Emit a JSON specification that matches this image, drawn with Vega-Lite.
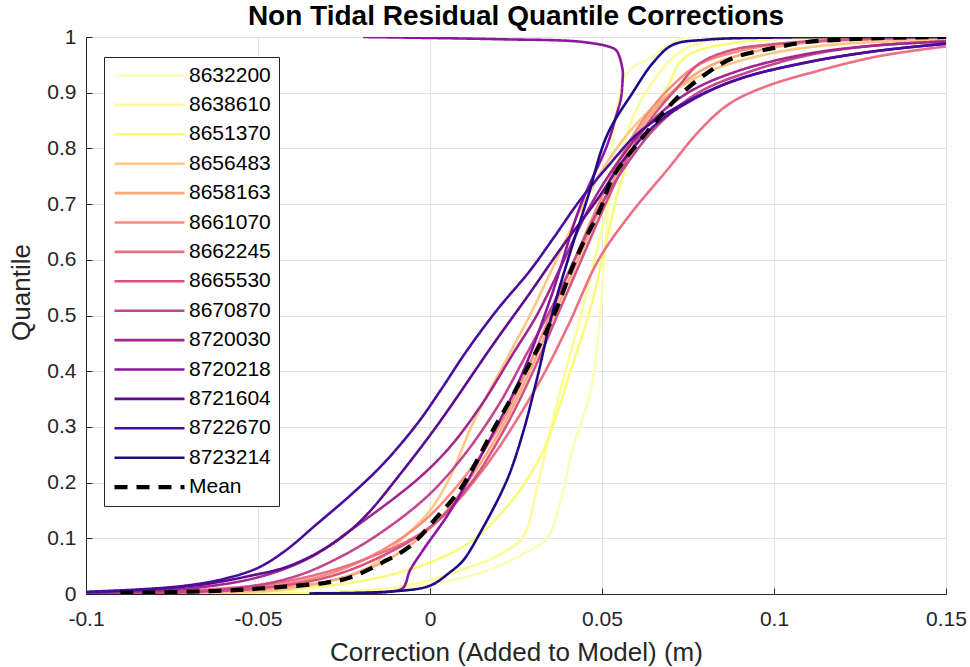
{
"$schema":"https://vega.github.io/schema/vega-lite/v6.json",
"width":860,"height":557,
"autosize":"none",
"padding":{"left":86,"top":37,"right":24,"bottom":73},
"background":"white",
"config":{
 "font":"Liberation Sans",
 "view":{"stroke":"#262626","strokeWidth":1},
 "axis":{"gridColor":"#e3e3e3","gridWidth":1,"domainColor":"#262626","tickColor":"#262626","labelColor":"#262626","titleColor":"#262626","labelFontSize":21,"titleFontSize":26,"titleFontWeight":"normal","tickSize":-6,"labelFlush":false,"labelOverlap":false}
},
"title":{"text":"Non Tidal Residual Quantile Corrections","fontSize":28,"fontWeight":"bold","color":"#000000","offset":-5},
"datasets":{"d":[
{"s":"8632200","x":-0.06,"q":0},{"s":"8632200","x":-0.03,"q":0.003},{"s":"8632200","x":-0.015,"q":0.008},{"s":"8632200","x":-0.005,"q":0.013},{"s":"8632200","x":0.01,"q":0.03},{"s":"8632200","x":0.0195,"q":0.049},{"s":"8632200","x":0.028,"q":0.075},{"s":"8632200","x":0.034,"q":0.1},{"s":"8632200","x":0.0378,"q":0.163},{"s":"8632200","x":0.0416,"q":0.264},{"s":"8632200","x":0.0465,"q":0.36},{"s":"8632200","x":0.049,"q":0.47},{"s":"8632200","x":0.0505,"q":0.587},{"s":"8632200","x":0.052,"q":0.704},{"s":"8632200","x":0.053,"q":0.8},{"s":"8632200","x":0.055,"q":0.896},{"s":"8632200","x":0.058,"q":0.94},{"s":"8632200","x":0.064,"q":0.962},{"s":"8632200","x":0.0735,"q":0.998},{"s":"8632200","x":0.09,"q":1},
{"s":"8638610","x":-0.06,"q":0},{"s":"8638610","x":-0.03,"q":0.003},{"s":"8638610","x":-0.01,"q":0.012},{"s":"8638610","x":0,"q":0.025},{"s":"8638610","x":0.01,"q":0.045},{"s":"8638610","x":0.02,"q":0.07},{"s":"8638610","x":0.027,"q":0.102},{"s":"8638610","x":0.031,"q":0.187},{"s":"8638610","x":0.035,"q":0.294},{"s":"8638610","x":0.0387,"q":0.384},{"s":"8638610","x":0.043,"q":0.48},{"s":"8638610","x":0.047,"q":0.58},{"s":"8638610","x":0.051,"q":0.68},{"s":"8638610","x":0.055,"q":0.78},{"s":"8638610","x":0.06,"q":0.87},{"s":"8638610","x":0.066,"q":0.93},{"s":"8638610","x":0.072,"q":0.97},{"s":"8638610","x":0.08,"q":0.992},{"s":"8638610","x":0.1,"q":1},
{"s":"8651370","x":-0.08,"q":0},{"s":"8651370","x":-0.04,"q":0.008},{"s":"8651370","x":-0.0145,"q":0.03},{"s":"8651370","x":0,"q":0.057},{"s":"8651370","x":0.0125,"q":0.097},{"s":"8651370","x":0.024,"q":0.169},{"s":"8651370","x":0.032,"q":0.246},{"s":"8651370","x":0.037,"q":0.325},{"s":"8651370","x":0.04,"q":0.384},{"s":"8651370","x":0.0465,"q":0.51},{"s":"8651370","x":0.052,"q":0.653},{"s":"8651370","x":0.0544,"q":0.716},{"s":"8651370","x":0.059,"q":0.8},{"s":"8651370","x":0.064,"q":0.864},{"s":"8651370","x":0.069,"q":0.91},{"s":"8651370","x":0.0727,"q":0.955},{"s":"8651370","x":0.0776,"q":0.975},{"s":"8651370","x":0.088,"q":0.989},{"s":"8651370","x":0.1,"q":0.996},{"s":"8651370","x":0.13,"q":1},
{"s":"8656483","x":-0.09,"q":0},{"s":"8656483","x":-0.07,"q":0.002},{"s":"8656483","x":-0.04,"q":0.01},{"s":"8656483","x":-0.018,"q":0.048},{"s":"8656483","x":-0.008,"q":0.1},{"s":"8656483","x":0,"q":0.15},{"s":"8656483","x":0.0058,"q":0.21},{"s":"8656483","x":0.012,"q":0.3},{"s":"8656483","x":0.0174,"q":0.366},{"s":"8656483","x":0.023,"q":0.43},{"s":"8656483","x":0.029,"q":0.5},{"s":"8656483","x":0.036,"q":0.59},{"s":"8656483","x":0.0427,"q":0.677},{"s":"8656483","x":0.05,"q":0.76},{"s":"8656483","x":0.058,"q":0.83},{"s":"8656483","x":0.068,"q":0.89},{"s":"8656483","x":0.08,"q":0.935},{"s":"8656483","x":0.095,"q":0.965},{"s":"8656483","x":0.115,"q":0.985},{"s":"8656483","x":0.15,"q":0.996},
{"s":"8658163","x":-0.1,"q":0},{"s":"8658163","x":-0.08,"q":0.002},{"s":"8658163","x":-0.045,"q":0.01},{"s":"8658163","x":-0.025,"q":0.03},{"s":"8658163","x":-0.01,"q":0.07},{"s":"8658163","x":0.002,"q":0.13},{"s":"8658163","x":0.012,"q":0.21},{"s":"8658163","x":0.021,"q":0.3},{"s":"8658163","x":0.029,"q":0.4},{"s":"8658163","x":0.036,"q":0.5},{"s":"8658163","x":0.043,"q":0.6},{"s":"8658163","x":0.05,"q":0.7},{"s":"8658163","x":0.057,"q":0.79},{"s":"8658163","x":0.064,"q":0.86},{"s":"8658163","x":0.072,"q":0.91},{"s":"8658163","x":0.082,"q":0.95},{"s":"8658163","x":0.095,"q":0.975},{"s":"8658163","x":0.11,"q":0.99},{"s":"8658163","x":0.13,"q":0.996},{"s":"8658163","x":0.15,"q":1},
{"s":"8661070","x":-0.1,"q":0},{"s":"8661070","x":-0.09,"q":0.002},{"s":"8661070","x":-0.05,"q":0.012},{"s":"8661070","x":-0.03,"q":0.035},{"s":"8661070","x":-0.015,"q":0.075},{"s":"8661070","x":-0.002,"q":0.13},{"s":"8661070","x":0.01,"q":0.21},{"s":"8661070","x":0.02,"q":0.3},{"s":"8661070","x":0.028,"q":0.4},{"s":"8661070","x":0.035,"q":0.5},{"s":"8661070","x":0.042,"q":0.6},{"s":"8661070","x":0.049,"q":0.7},{"s":"8661070","x":0.056,"q":0.79},{"s":"8661070","x":0.063,"q":0.86},{"s":"8661070","x":0.07,"q":0.91},{"s":"8661070","x":0.078,"q":0.95},{"s":"8661070","x":0.09,"q":0.975},{"s":"8661070","x":0.105,"q":0.99},{"s":"8661070","x":0.125,"q":0.996},{"s":"8661070","x":0.15,"q":1},
{"s":"8662245","x":-0.1,"q":0.001},{"s":"8662245","x":-0.06,"q":0.01},{"s":"8662245","x":-0.04,"q":0.025},{"s":"8662245","x":-0.02,"q":0.06},{"s":"8662245","x":0,"q":0.12},{"s":"8662245","x":0.015,"q":0.22},{"s":"8662245","x":0.031,"q":0.372},{"s":"8662245","x":0.04,"q":0.48},{"s":"8662245","x":0.049,"q":0.6},{"s":"8662245","x":0.058,"q":0.68},{"s":"8662245","x":0.0689,"q":0.761},{"s":"8662245","x":0.0785,"q":0.833},{"s":"8662245","x":0.087,"q":0.88},{"s":"8662245","x":0.098,"q":0.912},{"s":"8662245","x":0.117,"q":0.946},{"s":"8662245","x":0.13,"q":0.965},{"s":"8662245","x":0.146,"q":0.98},{"s":"8662245","x":0.15,"q":0.983},
{"s":"8665530","x":-0.1,"q":0},{"s":"8665530","x":-0.08,"q":0.002},{"s":"8665530","x":-0.05,"q":0.01},{"s":"8665530","x":-0.03,"q":0.03},{"s":"8665530","x":-0.015,"q":0.065},{"s":"8665530","x":0,"q":0.12},{"s":"8665530","x":0.012,"q":0.2},{"s":"8665530","x":0.022,"q":0.3},{"s":"8665530","x":0.03,"q":0.4},{"s":"8665530","x":0.037,"q":0.5},{"s":"8665530","x":0.044,"q":0.6},{"s":"8665530","x":0.051,"q":0.7},{"s":"8665530","x":0.058,"q":0.79},{"s":"8665530","x":0.064,"q":0.851},{"s":"8665530","x":0.072,"q":0.91},{"s":"8665530","x":0.0785,"q":0.953},{"s":"8665530","x":0.088,"q":0.977},{"s":"8665530","x":0.098,"q":0.986},{"s":"8665530","x":0.12,"q":0.995},{"s":"8665530","x":0.15,"q":1},
{"s":"8670870","x":-0.1,"q":0.001},{"s":"8670870","x":-0.06,"q":0.008},{"s":"8670870","x":-0.04,"q":0.03},{"s":"8670870","x":-0.025,"q":0.07},{"s":"8670870","x":-0.012,"q":0.12},{"s":"8670870","x":0,"q":0.18},{"s":"8670870","x":0.01,"q":0.25},{"s":"8670870","x":0.02,"q":0.34},{"s":"8670870","x":0.028,"q":0.43},{"s":"8670870","x":0.035,"q":0.51},{"s":"8670870","x":0.042,"q":0.6},{"s":"8670870","x":0.049,"q":0.69},{"s":"8670870","x":0.057,"q":0.77},{"s":"8670870","x":0.066,"q":0.84},{"s":"8670870","x":0.078,"q":0.9},{"s":"8670870","x":0.094,"q":0.94},{"s":"8670870","x":0.112,"q":0.97},{"s":"8670870","x":0.13,"q":0.985},{"s":"8670870","x":0.15,"q":0.992},
{"s":"8720030","x":-0.1,"q":0.002},{"s":"8720030","x":-0.07,"q":0.01},{"s":"8720030","x":-0.05,"q":0.03},{"s":"8720030","x":-0.035,"q":0.065},{"s":"8720030","x":-0.023,"q":0.115},{"s":"8720030","x":-0.0038,"q":0.205},{"s":"8720030","x":0.0058,"q":0.264},{"s":"8720030","x":0.015,"q":0.34},{"s":"8720030","x":0.024,"q":0.43},{"s":"8720030","x":0.031,"q":0.5},{"s":"8720030","x":0.039,"q":0.6},{"s":"8720030","x":0.046,"q":0.69},{"s":"8720030","x":0.054,"q":0.77},{"s":"8720030","x":0.063,"q":0.84},{"s":"8720030","x":0.075,"q":0.9},{"s":"8720030","x":0.09,"q":0.94},{"s":"8720030","x":0.11,"q":0.97},{"s":"8720030","x":0.13,"q":0.985},{"s":"8720030","x":0.15,"q":0.992},
{"s":"8720218","x":-0.035,"q":0.001},{"s":"8720218","x":-0.012,"q":0.004},{"s":"8720218","x":-0.008,"q":0.01},{"s":"8720218","x":-0.007,"q":0.02},{"s":"8720218","x":-0.006,"q":0.04},{"s":"8720218","x":-0.002,"q":0.079},{"s":"8720218","x":0.006,"q":0.15},{"s":"8720218","x":0.015,"q":0.25},{"s":"8720218","x":0.026,"q":0.384},{"s":"8720218","x":0.035,"q":0.53},{"s":"8720218","x":0.0436,"q":0.695},{"s":"8720218","x":0.0515,"q":0.806},{"s":"8720218","x":0.054,"q":0.856},{"s":"8720218","x":0.0555,"q":0.89},{"s":"8720218","x":0.056,"q":0.925},{"s":"8720218","x":0.056,"q":0.94},{"s":"8720218","x":0.0545,"q":0.973},{"s":"8720218","x":0.0532,"q":0.98},{"s":"8720218","x":0.0445,"q":0.991},{"s":"8720218","x":0.02,"q":0.996},{"s":"8720218","x":-0.0195,"q":1},
{"s":"8721604","x":-0.1,"q":0.003},{"s":"8721604","x":-0.08,"q":0.009},{"s":"8721604","x":-0.065,"q":0.018},{"s":"8721604","x":-0.052,"q":0.033},{"s":"8721604","x":-0.042,"q":0.048},{"s":"8721604","x":-0.033,"q":0.073},{"s":"8721604","x":-0.025,"q":0.105},{"s":"8721604","x":-0.018,"q":0.145},{"s":"8721604","x":-0.0087,"q":0.215},{"s":"8721604","x":0,"q":0.285},{"s":"8721604","x":0.0058,"q":0.335},{"s":"8721604","x":0.018,"q":0.445},{"s":"8721604","x":0.029,"q":0.54},{"s":"8721604","x":0.038,"q":0.62},{"s":"8721604","x":0.0485,"q":0.707},{"s":"8721604","x":0.057,"q":0.785},{"s":"8721604","x":0.066,"q":0.845},{"s":"8721604","x":0.078,"q":0.893},{"s":"8721604","x":0.09,"q":0.925},{"s":"8721604","x":0.11,"q":0.955},{"s":"8721604","x":0.13,"q":0.975},{"s":"8721604","x":0.15,"q":0.988},
{"s":"8722670","x":-0.1,"q":0.004},{"s":"8722670","x":-0.085,"q":0.008},{"s":"8722670","x":-0.071,"q":0.015},{"s":"8722670","x":-0.06,"q":0.027},{"s":"8722670","x":-0.05,"q":0.047},{"s":"8722670","x":-0.042,"q":0.078},{"s":"8722670","x":-0.033,"q":0.125},{"s":"8722670","x":-0.023,"q":0.178},{"s":"8722670","x":-0.0137,"q":0.233},{"s":"8722670","x":-0.0038,"q":0.305},{"s":"8722670","x":0.003,"q":0.365},{"s":"8722670","x":0.0105,"q":0.435},{"s":"8722670","x":0.0195,"q":0.51},{"s":"8722670","x":0.029,"q":0.58},{"s":"8722670","x":0.036,"q":0.64},{"s":"8722670","x":0.0436,"q":0.707},{"s":"8722670","x":0.052,"q":0.77},{"s":"8722670","x":0.061,"q":0.83},{"s":"8722670","x":0.075,"q":0.885},{"s":"8722670","x":0.09,"q":0.925},{"s":"8722670","x":0.11,"q":0.955},{"s":"8722670","x":0.13,"q":0.975},{"s":"8722670","x":0.15,"q":0.988},
{"s":"8723214","x":-0.035,"q":0.001},{"s":"8723214","x":-0.01,"q":0.005},{"s":"8723214","x":0,"q":0.015},{"s":"8723214","x":0.006,"q":0.04},{"s":"8723214","x":0.0096,"q":0.06},{"s":"8723214","x":0.0145,"q":0.109},{"s":"8723214","x":0.0224,"q":0.205},{"s":"8723214","x":0.027,"q":0.289},{"s":"8723214","x":0.031,"q":0.384},{"s":"8723214","x":0.0358,"q":0.51},{"s":"8723214","x":0.0407,"q":0.612},{"s":"8723214","x":0.0456,"q":0.707},{"s":"8723214","x":0.0515,"q":0.824},{"s":"8723214","x":0.059,"q":0.901},{"s":"8723214","x":0.065,"q":0.955},{"s":"8723214","x":0.0706,"q":0.986},{"s":"8723214","x":0.08,"q":0.995},{"s":"8723214","x":0.1,"q":0.999},{"s":"8723214","x":0.15,"q":1},
{"s":"Mean","x":-0.09,"q":0.002},{"s":"Mean","x":-0.06,"q":0.006},{"s":"Mean","x":-0.045,"q":0.012},{"s":"Mean","x":-0.0305,"q":0.02},{"s":"Mean","x":-0.023,"q":0.03},{"s":"Mean","x":-0.0137,"q":0.057},{"s":"Mean","x":-0.006,"q":0.085},{"s":"Mean","x":0.002,"q":0.138},{"s":"Mean","x":0.0087,"q":0.187},{"s":"Mean","x":0.0137,"q":0.24},{"s":"Mean","x":0.0183,"q":0.294},{"s":"Mean","x":0.0233,"q":0.348},{"s":"Mean","x":0.028,"q":0.402},{"s":"Mean","x":0.033,"q":0.461},{"s":"Mean","x":0.037,"q":0.515},{"s":"Mean","x":0.0407,"q":0.576},{"s":"Mean","x":0.0445,"q":0.63},{"s":"Mean","x":0.0494,"q":0.689},{"s":"Mean","x":0.053,"q":0.747},{"s":"Mean","x":0.06,"q":0.806},{"s":"Mean","x":0.066,"q":0.851},{"s":"Mean","x":0.0727,"q":0.896},{"s":"Mean","x":0.0805,"q":0.935},{"s":"Mean","x":0.088,"q":0.962},{"s":"Mean","x":0.0997,"q":0.98},{"s":"Mean","x":0.1096,"q":0.991},{"s":"Mean","x":0.119,"q":0.995},{"s":"Mean","x":0.13,"q":0.998},{"s":"Mean","x":0.15,"q":1}
]},
"data":{"name":"d"},
"mark":{"type":"line","clip":true,"strokeCap":"butt","strokeJoin":"round","interpolate":"catmull-rom"},
"encoding":{
 "x":{"field":"x","type":"quantitative","scale":{"domain":[-0.1,0.15],"nice":false,"zero":false},
  "axis":{"title":"Correction (Added to Model) (m)","values":[-0.1,-0.05,0,0.05,0.1,0.15],"labelExpr":"replace(format(datum.value,'~g'),'−','-')","labelPadding":20,"titlePadding":10}},
 "y":{"field":"q","type":"quantitative","scale":{"domain":[0,1],"nice":false},
  "axis":{"title":"Quantile","titleY":255,"values":[0,0.1,0.2,0.3,0.4,0.5,0.6,0.7,0.8,0.9,1],"labelExpr":"replace(format(datum.value,'~g'),'−','-')","labelPadding":16,"titlePadding":12}},
 "order":{"field":"q","type":"quantitative"},
 "color":{"field":"s","type":"nominal",
  "scale":{"domain":["8632200","8638610","8651370","8656483","8658163","8661070","8662245","8665530","8670870","8720030","8720218","8721604","8722670","8723214","Mean"],
   "range":["#fdfdb5","#fcfc98","#fbfb78","#fdc784","#fca97c","#fa8c7c","#ee6e83","#d65381","#c3468f","#a3288e","#8c179e","#5a0c8c","#480c9f","#1f0a8b","#000000"]},
  "legend":{"title":null,"orient":"none","legendX":18,"legendY":20,"strokeColor":"#262626","fillColor":"#ffffff","padding":8,"symbolType":"M-1,0H7.75","symbolSize":256,"labelFontSize":21,"labelColor":"#000000","rowPadding":7.4,"labelOffset":56}},
 "strokeDash":{"field":"s","type":"nominal",
  "scale":{"domain":["8632200","8638610","8651370","8656483","8658163","8661070","8662245","8665530","8670870","8720030","8720218","8721604","8722670","8723214","Mean"],
   "range":[[1,0],[1,0],[1,0],[1,0],[1,0],[1,0],[1,0],[1,0],[1,0],[1,0],[1,0],[1,0],[1,0],[1,0],[13,9]]}},
 "strokeWidth":{"field":"s","type":"nominal",
  "scale":{"type":"ordinal","domain":["8632200","8638610","8651370","8656483","8658163","8661070","8662245","8665530","8670870","8720030","8720218","8721604","8722670","8723214","Mean"],
   "range":[2.6,2.6,2.6,2.6,2.6,2.6,2.6,2.6,2.6,2.6,2.6,2.6,2.6,2.6,4.2]}}
}
}
